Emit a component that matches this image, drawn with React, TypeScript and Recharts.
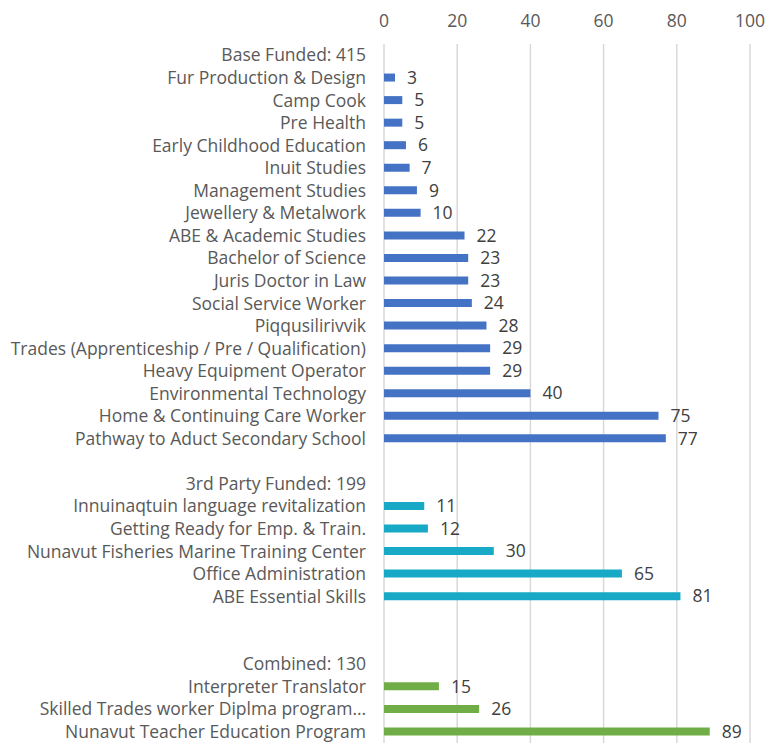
import { BarChart, Bar, XAxis, YAxis, CartesianGrid, Cell, LabelList } from "recharts";

const baseHeader = "Base Funded: 415";
const baseNames = [
  "Fur Production & Design",
  "Camp Cook",
  "Pre Health",
  "Early Childhood Education",
  "Inuit Studies",
  "Management Studies",
  "Jewellery & Metalwork",
  "ABE & Academic Studies",
  "Bachelor of Science",
  "Juris Doctor in Law",
  "Social Service Worker",
  "Piqqusilirivvik",
  "Trades (Apprenticeship / Pre / Qualification)",
  "Heavy Equipment Operator",
  "Environmental Technology",
  "Home & Continuing Care Worker",
  "Pathway to Aduct Secondary School",
];
const baseValues = [3, 5, 5, 6, 7, 9, 10, 22, 23, 23, 24, 28, 29, 29, 40, 75, 77];

const thirdHeader = "3rd Party Funded: 199";
const thirdNames = [
  "Innuinaqtuin language revitalization",
  "Getting Ready for Emp. & Train.",
  "Nunavut Fisheries Marine Training Center",
  "Office Administration",
  "ABE Essential Skills",
];
const thirdValues = [11, 12, 30, 65, 81];

const combinedHeader = "Combined: 130";
const combinedNames = [
  "Interpreter Translator",
  "Skilled Trades worker Diplma program…",
  "Nunavut Teacher Education Program",
];
const combinedValues = [15, 26, 89];

const xTicks = [0, 20, 40, 60, 80, 100];

const BLUE = "#4472C4";
const TEAL = "#17A9C6";
const GREEN = "#70AD47";
const FONT = "'Open Sans', Lato, sans-serif";
const FS = 17.5;

type Row = { id: string; label: string; value: number | null; color: string };

const rows: Row[] = [];
const push = (label: string, value: number | null, color: string) =>
  rows.push({ id: `r${rows.length}`, label, value, color });

push(baseHeader, null, BLUE);
baseNames.forEach((n, i) => push(n, baseValues[i], BLUE));
push("", null, BLUE);
push(thirdHeader, null, TEAL);
thirdNames.forEach((n, i) => push(n, thirdValues[i], TEAL));
push("", null, TEAL);
push("", null, TEAL);
push(combinedHeader, null, GREEN);
combinedNames.forEach((n, i) => push(n, combinedValues[i], GREEN));

const labelById: Record<string, string> = {};
rows.forEach((r) => (labelById[r.id] = r.label));

export default function App() {
  return (
    <div style={{ position: "absolute", left: 0, top: 0, width: 765, height: 743, background: "#fff", fontFamily: FONT }}>
      <BarChart
        width={765}
        height={743}
        data={rows}
        layout="vertical"
        margin={{ top: 0, right: 15, left: 0, bottom: 0 }}
      >
        <CartesianGrid horizontal={false} stroke="#d9d9d9" strokeWidth={1.5} />
        <XAxis
          type="number"
          orientation="top"
          domain={[0, 100]}
          ticks={xTicks}
          height={44}
          axisLine={false}
          tickLine={false}
          tickMargin={11}
          tick={{ fill: "#595959", fontSize: FS, fontFamily: FONT }}
        />
        <YAxis
          type="category"
          dataKey="id"
          width={384}
          axisLine={false}
          tickLine={false}
          tickMargin={12}
          interval={0}
          tickFormatter={(v: string) => labelById[v]}
          tick={{ fill: "#595959", fontSize: FS, fontFamily: FONT }}
        />
        <Bar dataKey="value" barSize={8} isAnimationActive={false}>
          {rows.map((r) => (
            <Cell key={r.id} fill={r.color} />
          ))}
          <LabelList
            dataKey="value"
            position="right"
            offset={12}
            fill="#404040"
            fontSize={FS}
            fontFamily={FONT}
          />
        </Bar>
      </BarChart>
    </div>
  );
}
